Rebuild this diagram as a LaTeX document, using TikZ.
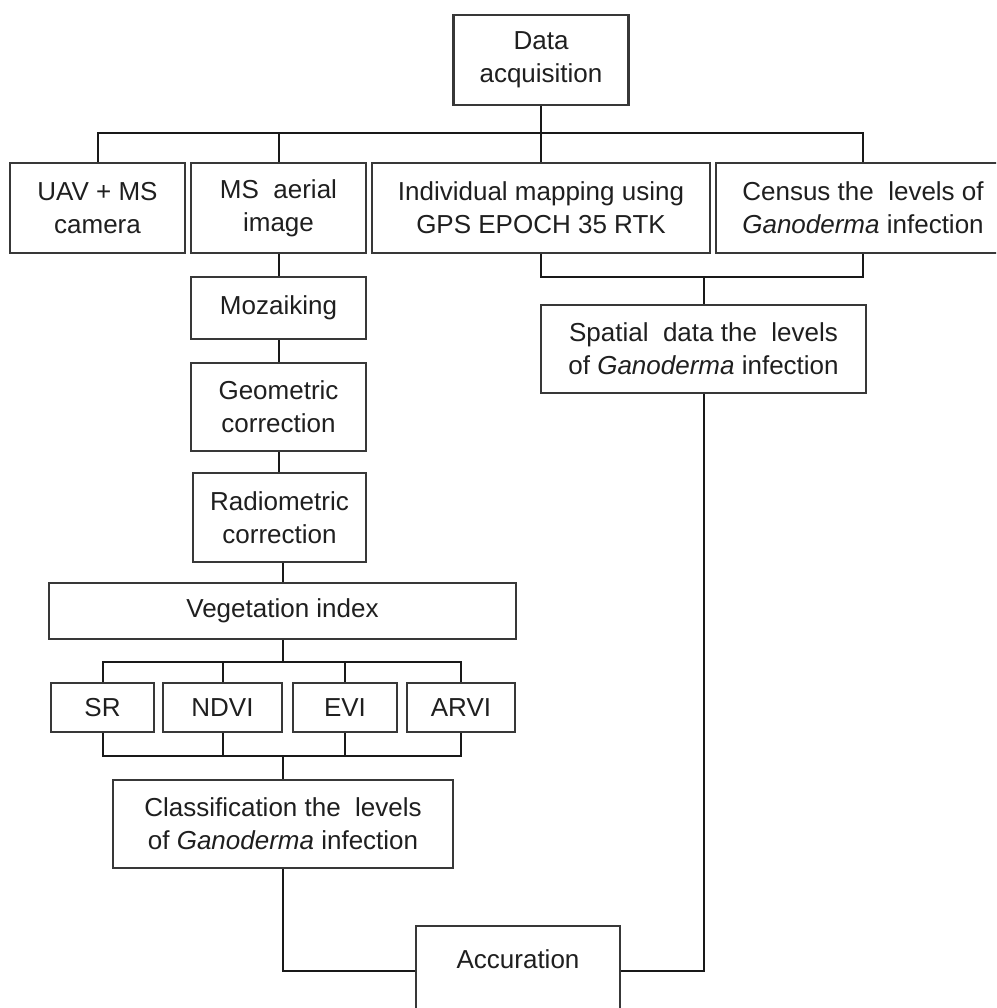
\documentclass[tikz,border=0pt]{standalone}
\usepackage{fontspec}
\setmainfont{Liberation Sans}
\begin{document}
\begin{tikzpicture}[x=1pt,y=-1pt,
  box/.style={draw=black!78,line width=2.6pt,rectangle,inner sep=0pt,align=center,
    text=black!88,font=\fontsize{26}{33}\selectfont},
  conn/.style={draw=black!90,line width=2pt}]
\clip (0,0) rectangle (996,1008);
\fill[white] (0,0) rectangle (996,1008);
% top
\node[box,minimum width=175,minimum height=90] (da) at (541,60) {Data\\acquisition};
\node[box,minimum width=175,minimum height=90] (uav) at (97.5,208) {UAV + MS\\camera};
\node[box,minimum width=175,minimum height=90] (ms) at (278.5,208) {MS~ aerial\\image};
\node[box,minimum width=338,minimum height=90] (ind) at (541,208) {Individual mapping using\\GPS EPOCH 35 RTK};
\node[box,minimum width=294,minimum height=90] (cen) at (863,208) {Census the~ levels of\\\textit{Ganoderma} infection};
% left chain
\node[box,minimum width=175,minimum height=62] (moz) at (278.5,308) {Mozaiking};
\node[box,minimum width=175,minimum height=88] (geo) at (278.5,407) {Geometric\\correction};
\node[box,minimum width=173,minimum height=89] (rad) at (279.5,517.5) {Radiometric\\correction};
\node[box,minimum width=467,minimum height=56] (veg) at (282.5,611) {Vegetation index};
\node[box,minimum width=103,minimum height=49] (sr) at (102.5,707.5) {SR};
\node[box,minimum width=119,minimum height=49] (ndvi) at (222.5,707.5) {NDVI};
\node[box,minimum width=104,minimum height=49] (evi) at (345,707.5) {EVI};
\node[box,minimum width=108,minimum height=49] (arvi) at (461,707.5) {ARVI};
\node[box,minimum width=340,minimum height=88] (cls) at (283,824) {Classification the~ levels\\of \textit{Ganoderma} infection};
% right
\node[box,minimum width=325,minimum height=88] (spa) at (703.5,349) {Spatial~ data the~ levels\\of \textit{Ganoderma} infection};
\node[box,minimum width=204,minimum height=89,text height=19pt,text depth=24pt] (acc) at (518,970.5) {Accuration};
% connectors
\coordinate (b1) at (541,133);
\coordinate (b2) at (703.5,277);
\coordinate (b3) at (282.5,662);
\coordinate (b4) at (283,756);
\draw[conn] (uav.north) |- (b1) -| (cen.north);
\draw[conn] (da.south) -- (b1) -- (ind.north);
\draw[conn] (ms.north) -- (ms.north |- b1);
\draw[conn] (ind.south) |- (b2) -| (cen.south);
\draw[conn] (b2) -- (spa.north);
\draw[conn] (ms.south) -- (moz.north);
\draw[conn] (moz.south) -- (geo.north);
\draw[conn] (geo.south) -- (geo.south |- rad.north);
\draw[conn] (veg.north) -- (veg.north |- rad.south);
\draw[conn] (sr.north) |- (b3) -| (arvi.north);
\draw[conn] (veg.south) -- (b3);
\draw[conn] (ndvi.north) -- (ndvi.north |- b3);
\draw[conn] (evi.north) -- (evi.north |- b3);
\draw[conn] (sr.south) |- (b4) -| (arvi.south);
\draw[conn] (ndvi.south) -- (ndvi.south |- b4);
\draw[conn] (evi.south) -- (evi.south |- b4);
\draw[conn] (b4) -- (cls.north);
\draw[conn] (cls.south) |- (acc.west);
\draw[conn] (spa.south) |- (acc.east);
\end{tikzpicture}
\end{document}
